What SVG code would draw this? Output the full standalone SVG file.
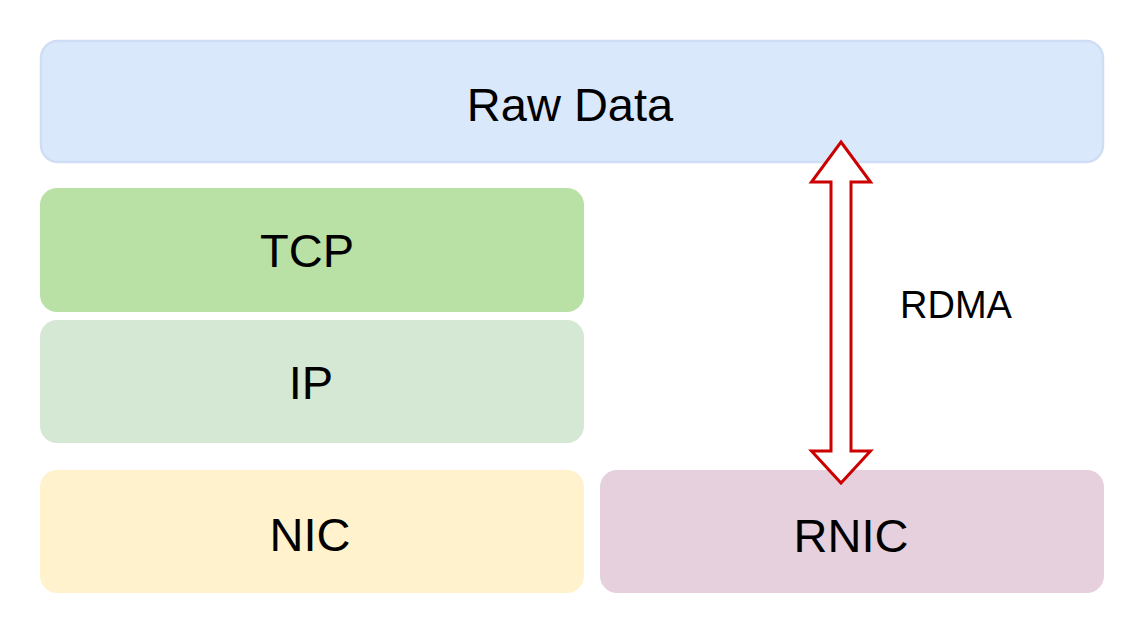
<svg xmlns="http://www.w3.org/2000/svg" width="1144" height="636" viewBox="0 0 1144 636">
<style>
text { font-family: "Liberation Sans", Arial, Helvetica, sans-serif; fill: #000; text-anchor: middle; }
.lbl { font-size: 47px; }
.small { font-size: 38px; }
</style>
<rect width="1144" height="636" fill="#ffffff"/>
<g id="raw-data">
<rect x="41" y="41" width="1062" height="121" rx="17" fill="#dae8fc" stroke="#d0def5" stroke-width="2.5"/>
<text class="lbl" x="570" y="121">Raw Data</text>
</g>
<g id="tcp">
<rect x="40" y="188" width="544" height="124" rx="17" fill="#b9e0a5"/>
<text class="lbl" x="307" y="267">TCP</text>
</g>
<g id="ip">
<rect x="40" y="320" width="544" height="123" rx="17" fill="#d5e8d4"/>
<text class="lbl" x="311" y="399">IP</text>
</g>
<g id="nic">
<rect x="40" y="470" width="544" height="123" rx="17" fill="#fff2cc"/>
<text class="lbl" x="310" y="551">NIC</text>
</g>
<g id="rnic">
<rect x="600" y="470" width="504" height="123" rx="17" fill="#e6d0de"/>
<text class="lbl" x="851" y="552">RNIC</text>
</g>
<g id="connectors">
<polygon points="841,142 870.5,182 851,182 851,451 870.5,451 841,483 811.5,451 831,451 831,182 811.5,182" fill="#ffffff" stroke="#cc0000" stroke-width="3" stroke-linejoin="miter"/>
<text class="small" x="956" y="318">RDMA</text>
</g>
</svg>
